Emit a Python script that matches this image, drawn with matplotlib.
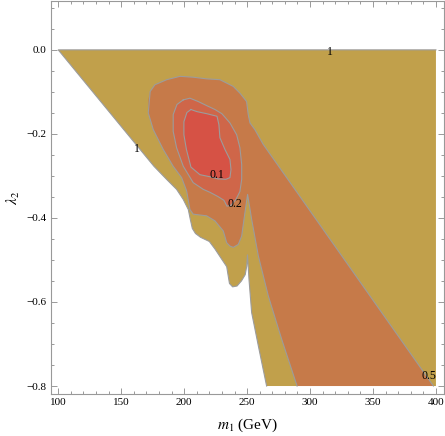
import matplotlib
matplotlib.use("Agg")
import matplotlib.pyplot as plt
from matplotlib.ticker import MultipleLocator

# ---- data: contour region boundaries (m1 in GeV, lambda2) ----
# level-1 region (outer olive area)
lvl1_x = [100, 400, 400, 265.5, 258.9, 253.6, 251.5, 250.3, 249.7, 248.5, 245.5, 242.0,
          238.5, 236.0, 235.0, 233.8, 229.8, 224.5, 220.0, 213.0, 209.0, 206.5, 205.0,
          203.3, 199.3, 194.0, 186.0, 176.0, 165.0]
lvl1_y = [0.0, 0.0, -0.8, -0.8, -0.704, -0.625, -0.546, -0.488, -0.515, -0.535, -0.550, -0.562,
          -0.564, -0.556, -0.538, -0.516, -0.498, -0.474, -0.456, -0.446, -0.437, -0.425, -0.405,
          -0.380, -0.356, -0.332, -0.308, -0.277, -0.237]

# level-0.5 region (orange: blob + wedge)
lvl05_x = [171.5, 173.0, 176.8, 186.1, 196.7, 207.0, 217.9, 228.4, 239.0, 244.3, 249.6, 250.9,
           252.3, 256.2, 262.8, 398.0, 289.7, 277.4, 266.8, 258.9, 253.6, 250.4, 248.3, 245.7,
           243.0, 239.0, 236.4, 233.8, 231.1, 224.5, 217.9, 207.2, 204.6, 202.0, 198.0, 191.3,
           183.4, 175.5, 171.5]
lvl05_y = [-0.119, -0.099, -0.083, -0.071, -0.063, -0.065, -0.069, -0.071, -0.087, -0.103, -0.123, -0.154,
           -0.174, -0.190, -0.225, -0.8, -0.8, -0.688, -0.585, -0.490, -0.403, -0.344, -0.387, -0.443,
           -0.463, -0.470, -0.467, -0.459, -0.431, -0.407, -0.395, -0.391, -0.380, -0.336, -0.304, -0.277,
           -0.237, -0.190, -0.150]

# level-0.2 region
lvl02_x = [199.3, 204.6, 211.2, 218.1, 224.5, 230.0, 236.4, 241.7, 244.3, 245.7, 245.7, 244.3,
           241.1, 237.2, 234.0, 231.6, 226.8, 220.5, 215.2, 207.2, 199.3, 194.0, 191.3, 191.3, 194.3]
lvl02_y = [-0.119, -0.115, -0.123, -0.133, -0.142, -0.152, -0.174, -0.202, -0.233, -0.273, -0.308, -0.337,
           -0.356, -0.370, -0.372, -0.358, -0.349, -0.339, -0.332, -0.316, -0.277, -0.233, -0.194, -0.154, -0.130]

# level-0.1 region
lvl01_x = [205.4, 210.2, 218.1, 226.1, 227.6, 228.4, 232.4, 236.4, 237.2, 236.4, 233.2, 226.8,
           220.5, 212.5, 205.4, 201.8, 199.8, 199.8, 202.2]
lvl01_y = [-0.142, -0.147, -0.152, -0.158, -0.178, -0.209, -0.237, -0.261, -0.285, -0.304, -0.308, -0.307,
           -0.302, -0.297, -0.279, -0.237, -0.202, -0.171, -0.149]

# contour labels
label_text = ["1", "1", "0.1", "0.2", "0.5"]
label_x = [315.8, 162.3, 225.8, 240.3, 394.4]
label_y = [-0.004, -0.237, -0.297, -0.368, -0.777]

x_ticks = [100, 150, 200, 250, 300, 350, 400]
y_ticks = [0.0, -0.2, -0.4, -0.6, -0.8]

# ---- style ----
plt.rcParams["font.family"] = ["Liberation Serif", "DejaVu Serif"]
plt.rcParams["mathtext.fontset"] = "stix"

col_1 = "#C1A04B"
col_05 = "#C67A49"
col_02 = "#CF6649"
col_01 = "#D65245"
line_col = "#9C9C9C"
frame_col = "#999999"

fig = plt.figure(figsize=(4.45, 4.36), dpi=100)
ax = fig.add_axes([50.7 / 445, 42 / 436, (444.0 - 50.7) / 445, 393 / 436])

ax.fill(lvl1_x, lvl1_y, color=col_1, lw=0, zorder=1)
ax.fill(lvl05_x, lvl05_y, color=col_05, lw=0, zorder=2)
ax.fill(lvl02_x, lvl02_y, color=col_02, lw=0, zorder=3)
ax.fill(lvl01_x, lvl01_y, color=col_01, lw=0, zorder=4)

# contour lines (skip plot-edge segments)
l1x = lvl1_x[3:] + [lvl1_x[0], lvl1_x[1]]
l1y = lvl1_y[3:] + [lvl1_y[0], lvl1_y[1]]
ax.plot(l1x, l1y, color=line_col, lw=0.8, zorder=5)
l5x = lvl05_x[16:] + lvl05_x[1:16]
l5y = lvl05_y[16:] + lvl05_y[1:16]
ax.plot(l5x, l5y, color=line_col, lw=0.8, zorder=5)
ax.plot(lvl02_x + lvl02_x[:1], lvl02_y + lvl02_y[:1], color=line_col, lw=0.8, zorder=5)
ax.plot(lvl01_x + lvl01_x[:1], lvl01_y + lvl01_y[:1], color=line_col, lw=0.8, zorder=5)

for t, x, y in zip(label_text, label_x, label_y):
    ax.text(x, y, t, fontsize=8.5, ha="center", va="center", color="black", zorder=6)

ax.set_xlim(94.0, 406.4)
ax.set_ylim(-0.819, 0.1163)
ax.set_xticks(x_ticks)
ax.set_xticklabels([str(v) for v in x_ticks])
ax.set_yticks(y_ticks)
ax.set_yticklabels([("%.1f" % v).replace("-", "\u2212") for v in y_ticks])
ax.xaxis.set_minor_locator(MultipleLocator(10))
ax.yaxis.set_minor_locator(MultipleLocator(0.05))
ax.tick_params(which="both", direction="in", top=True, right=True, color=frame_col,
               labelsize=8, width=0.7, pad=3)
ax.tick_params(which="major", length=4)
ax.tick_params(which="minor", length=2.3)
for s in ax.spines.values():
    s.set_color(frame_col)
    s.set_linewidth(0.8)

ax.set_xlabel(r"$m_1$ (GeV)", fontsize=11, labelpad=7)
ax.set_ylabel(r"$\lambda_2$", fontsize=11, labelpad=3)

fig.savefig("out.png", dpi=100)
